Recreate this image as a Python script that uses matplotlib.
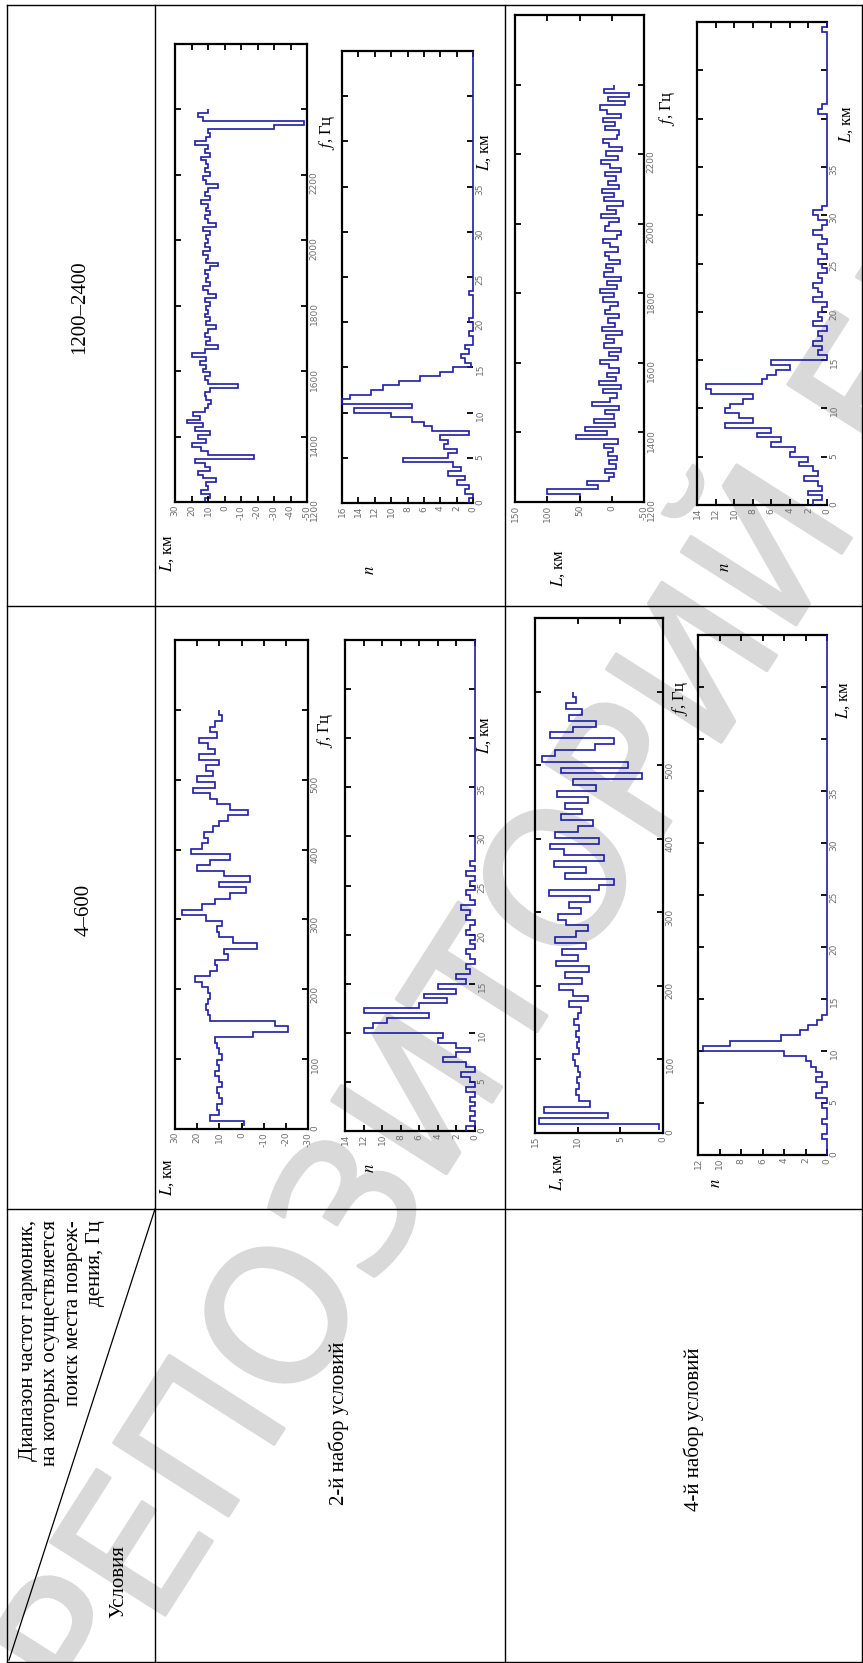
import numpy as np
import matplotlib
matplotlib.use('Agg')
import matplotlib.pyplot as plt
from matplotlib.lines import Line2D
from matplotlib import patheffects

plt.rcParams['font.family'] = ['Liberation Serif', 'DejaVu Serif']
plt.rcParams['mathtext.fontset'] = 'stix'
plt.rcParams['axes.unicode_minus'] = False

W, H = 863, 1663
BLUE = '#1c1ca8'
WM_GREY = '#d9d9d9'

# ---------------- data ----------------
# L(f) for 1200-2400 Hz, 2nd set of conditions
L_a = [12, 9, 14, 10, 11, 5, 13, 16, 9, 12,
       18, -18, 10, 14, 20, 11, 16, 9, 18, 13,
       23, 15, 19, 12, 10, 8, 11, 12, 9, -8,
       10, 12, 9, 13, 11, 15, 11, 20, 12, 4,
       11, 9, 12, 10, 5, 11, 9, 12, 10, 11,
       9, 12, 5, 10, 13, 9, 11, 10, 12, 9,
       4, 11, 10, 13, 9, 12, 10, 11, 9, 13,
       5, 10, 12, 9, 11, 10, 14, 9, 12, 10,
       4, 11, 13, 9, 12, 10, 11, 14, 9, 12,
       10, 18, 11, 9, 10, -30, -48, 13, 16, 10]
f_a = (1200, 2400)

# L(f) for 1200-2400 Hz, 4th set of conditions
L_b = [50, 50, 100, 22, 38, 5, -3, 10, -6, 4,
       -8, 6, -2, 12, -10, 55, 8, 42, -5, 28,
       -4, 10, -12, 30, 2, -8, 14, -15, 20, -6,
       8, -12, 5, 18, -10, 4, -14, 12, -3, 9,
       -16, 15, -5, 6, -12, 10, 2, -9, 14, -4,
       18, -8, 7, -14, 12, -2, 9, -13, 5, 11,
       -10, 3, 14, -8, -15, 10, 4, -11, 16, -6,
       8, -18, 12, -3, 15, -12, 6, -7, 11, -14,
       3, 17, -10, 9, -16, 5, 13, -8, -12, 10,
       -5, 14, -15, 8, 18, -20, 6, -26, 12, -4]
f_b = (1200, 2400)

# L(f) for 4-600 Hz, 2nd set
L_c = [-1, 14, 10, 11, 9, 10, 11, 9, 10, 12,
       10, 11, 9, 10, 11, 12, -5, -21, -15, 14,
       15, 16, 15, 14, 15, 18, 21, 14, 11, 12,
       6, 8, -7, 4, 10, 11, 9, 16, 27, 18,
       12, 5, -2, 10, -4, 8, 20, 14, 5, 23,
       18, 15, 17, 13, 10, 6, -3, 5, 11, 14,
       22, 12, 20, 13, 16, 10, 19, 12, 15, 19,
       11, 14, 12, 9, 10]
f_c = (4, 600)

# L(f) for 4-600 Hz, 4th set
L_d = [0.5, 14.5, 6.5, 14, 8.5, 9.8, 10.2, 9.9, 10.1, 9.7,
       10, 10.3, 10.6, 9.9, 10.1, 9.8, 10.2, 9.9, 10.4, 10,
       9.6, 11, 8.8, 10.5, 12.2, 9.5, 11.5, 8.7, 12.5, 10,
       11.8, 9, 12.6, 10.2, 8.8, 11.4, 12.3, 9.6, 11, 8.5,
       13.4, 7.5, 5.7, 11.5, 9, 12.8, 6.9, 11.6, 13.2, 7.5,
       12.6, 10, 8.2, 12, 9.5, 11.5, 8.8, 12.4, 7.8, 10.5,
       2.5, 12, 4.1, 14.2, 12.6, 8, 5.7, 13.2, 10.5, 7.9,
       11, 9.5, 11.4, 10.2, 10.6]
f_d = (4, 600)

# histograms n(L), 0.5 km bins from 0 to 50 km
n_e = [0.5, 0, 1, 0.5, 2, 1, 3, 1.5, 2.5, 8.5,
       3, 2, 3.5, 3, 4, 0.5, 5, 6, 7.5, 10,
       14.5, 7.5, 16, 15, 12.5, 11, 9, 6.5, 4, 2.5,
       0.3, 1, 1.5, 0.5, 1, 0, 0, 0.5, 0, 0,
       0.5, 0, 0, 0, 0, 0, 0.5, 0, 0, 0] + [0] * 50
n_f = [1, 0, 0.5, 0, 0.5, 0, 0.5, 0, 1, 0,
       0.5, 1.5, 0, 1, 3.5, 2, 0.5, 2, 4, 3.5,
       12, 11, 9.5, 5, 12, 6, 3, 5.5, 2, 4,
       1, 2, 0.5, 1, 0, 0.5, 1, 0, 0.5, 0,
       1, 0.5, 0, 1, 0.5, 1.5, 0, 0.5, 1, 0,
       0.5, 0, 1, 0, 0.5, 0, 0, 0, 0, 0] + [0] * 40
n_g = [1.5, 0.5, 2, 0.5, 1, 2.5, 1, 1.5, 3, 2,
       4, 3.5, 6, 5, 7.5, 6, 11, 8, 9.5, 11,
       10.5, 9, 8, 12.5, 13, 7, 6.5, 5.5, 4, 6,
       0, 1, 0.5, 1.5, 0.5, 1, 0, 1.5, 0.5, 1,
       0.5, 0, 1.5, 0.5, 1, 1.5, 0.5, 1, 0, 0.5,
       1, 0, 0.5, 1, 0, 0.5, 1.5, 0.5, 0, 1,
       1.5, 0.5, 0, 0, 0, 0, 0, 0, 0, 0,
       0, 0, 0, 0, 0, 0, 0, 0, 0, 0,
       0, 1, 0.5, 0, 0, 0, 0, 0, 0, 0,
       0, 0, 0, 0, 0, 0, 0, 0, 0.5, 0]
n_h = [0, 0, 0, 0.5, 0, 0, 0.5, 0, 0, 0.5,
       0, 1, 0.5, 0, 1, 0.5, 1, 1.5, 2, 4,
       11.5, 9, 4.3, 2.5, 1.8, 0.9, 0.5, 0, 0, 0] + [0] * 70
L_range = (0, 50)

row_labels = ['1200–2400', '4–600']
col_labels = ['2-й набор условий', '4-й набор условий']
corner_top = 'Диапазон частот гармоник,\nна которых осуществляется\nпоиск места повреж-\nдения, Гц'
corner_bottom = 'Условия'
watermark = 'РЕПОЗИТОРИЙ БГУИР'

fig = plt.figure(figsize=(W / 100, H / 100), dpi=100, facecolor='white')


def px(x0, y0, x1, y1):
    return [x0 / W, 1 - y1 / H, (x1 - x0) / W, (y1 - y0) / H]


def line(x0, y0, x1, y1, lw=1.0):
    fig.add_artist(Line2D([x0 / W, x1 / W], [1 - y0 / H, 1 - y1 / H],
                          transform=fig.transFigure, color='black', lw=lw))


def ftext(x, y, s, **kw):
    return fig.text(x / W, 1 - y / H, s, **kw)


def style(ax, xlim, xticks, ylim, yticks, yshow):
    ax.set_facecolor('none')
    ax.set_xlim(*xlim)
    ax.set_ylim(*ylim)
    ax.set_xticks(xticks)
    ax.set_yticks(yticks)
    ax.set_yticklabels([str(t) if t in yshow else '' for t in yticks])
    ax.tick_params(direction='in', length=4, width=1.3, top=True, right=True,
                   left=True, bottom=True, labelleft=False, labelright=True,
                   labelsize=6.5, labelcolor='#707070', pad=2,
                   labelfontfamily='DejaVu Sans')
    ax.tick_params(axis='x', labelrotation=90)
    ax.tick_params(axis='y', labelrotation=90)
    for sp in ax.spines.values():
        sp.set_linewidth(1.6)


def lf_panel(box, L, frange, xlim, xticks, ylim, yticks, yshow):
    ax = fig.add_axes(px(*box))
    edges = np.linspace(frange[0], frange[1], len(L) + 1)
    ax.stairs(L, edges, orientation='horizontal', baseline=None,
              color=BLUE, lw=1.2)
    style(ax, xlim, xticks, ylim, yticks, yshow)
    return ax


def hist_panel(box, n, nmax):
    ax = fig.add_axes(px(*box))
    edges = np.linspace(L_range[0], L_range[1], len(n) + 1)
    ax.stairs(n, edges, orientation='horizontal', baseline=None,
              color=BLUE, lw=1.2, zorder=3, clip_on=False)
    style(ax, (nmax, 0), np.arange(0, nmax + 1, 2), L_range,
          np.arange(0, 51, 5), list(range(0, 36, 5)))
    ax.spines['right'].set_visible(False)
    return ax


# watermark, under everything else
ftext(95, 1725, watermark, rotation=57.5, rotation_mode='anchor',
      ha='left', va='baseline', fontsize=134, family='DejaVu Sans',
      color=WM_GREY, zorder=-5,
      path_effects=[patheffects.withStroke(linewidth=2.5, foreground=WM_GREY)])

# ---------------- panels ----------------
lf_panel((175, 44, 307, 502), L_a, f_a, (30, -50), np.arange(-50, 31, 10),
         (1200, 2600), np.arange(1200, 2601, 200), list(range(1200, 2201, 200)))
lf_panel((515, 15, 644, 502), L_b, f_b, (150, -50), np.arange(-50, 151, 50),
         (1200, 2600), np.arange(1200, 2601, 200), list(range(1200, 2201, 200)))
lf_panel((175, 640, 308, 1129), L_c, f_c, (30, -30), np.arange(-30, 31, 10),
         (0, 700), np.arange(0, 701, 100), list(range(0, 501, 100)))
lf_panel((535, 618, 663, 1133), L_d, f_d, (15, 0), np.arange(0, 16, 5),
         (0, 700), np.arange(0, 701, 100), list(range(0, 501, 100)))

hist_panel((342, 51, 473, 503), n_e, 16)
hist_panel((697, 22, 827, 505), n_g, 14)
hist_panel((345, 640, 475, 1131), n_f, 14)
hist_panel((698, 635, 827, 1155), n_h, 12)

# axis labels
lab = dict(rotation=90, ha='center', va='center', fontsize=12)
for x, y in [(167, 553), (167, 1177), (558, 568), (557, 1172)]:
    ftext(x, y, '$L$, км', **lab)
for x, y in [(327, 132), (667, 108), (325, 730), (680, 698)]:
    ftext(x, y, '$f$, Гц', **lab)
for x, y in [(484, 152), (846, 124), (484, 735), (843, 700)]:
    ftext(x, y, '$L$, км', **lab)
for x, y in [(370, 570), (725, 567), (370, 1168), (716, 1183)]:
    ftext(x, y, '$n$', **lab)

# ---------------- table ----------------
line(7, 5, 862, 5)
line(7, 1662, 862, 1662)
line(7, 5, 7, 1662)
line(862, 5, 862, 1662)
line(155, 5, 155, 1662)
line(505, 5, 505, 1662)
line(7, 606, 862, 606)
line(7, 1209, 862, 1209)
line(155, 1209, 9, 1660, lw=0.9)

txt = dict(rotation=90, ha='center', va='center', fontsize=15)
ftext(80, 307, row_labels[0], **txt)
ftext(84, 910, row_labels[1], **txt)
ftext(339, 1423, col_labels[0], **txt)
ftext(694, 1429, col_labels[1], **txt)
ftext(119, 1582, corner_bottom, **txt)
ftext(62, 1220, corner_top, rotation=90, ha='center', va='top',
      multialignment='right', fontsize=15, linespacing=1.24)

fig.savefig('out.png', dpi=100, facecolor='white')
